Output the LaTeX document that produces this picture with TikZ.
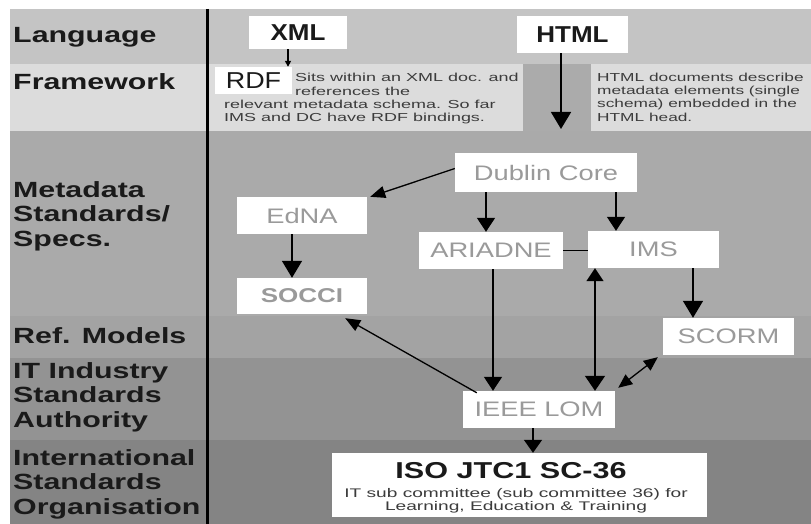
\documentclass[tikz,border=0pt]{standalone}
\usepackage{fontspec}
\setmainfont{Liberation Sans}
\newfontfamily\labfont[FakeStretch=1.38]{Liberation Sans}
\newfontfamily\boxfont[FakeStretch=1.3]{Liberation Sans}
\newfontfamily\descfont[FakeStretch=1.55]{Liberation Sans}
\newfontfamily\htmldescfont[FakeStretch=1.49]{Liberation Sans}
\newfontfamily\isosubfont[FakeStretch=1.53]{Liberation Sans}
\newfontfamily\isofont[FakeStretch=1.33]{Liberation Sans}
\newfontfamily\topfont[FakeStretch=1.13]{Liberation Sans}
\newfontfamily\rdffont[FakeStretch=1.17]{Liberation Sans}
\usetikzlibrary{arrows.meta,calc}
\definecolor{cLang}{HTML}{C4C4C4}
\definecolor{cFrame}{HTML}{DCDCDC}
\definecolor{cCol}{HTML}{ABABAB}
\definecolor{cMeta}{HTML}{AAAAAA}
\definecolor{cRef}{HTML}{A3A3A3}
\definecolor{cIT}{HTML}{939393}
\definecolor{cIntl}{HTML}{848484}
\definecolor{boxtext}{HTML}{9A9A9A}
\definecolor{ink}{HTML}{1A1A1A}
\begin{document}
\begin{tikzpicture}[x=1pt,y=-1pt,
  lab/.style={anchor=base west,inner sep=0,text=ink,font=\labfont\bfseries\fontsize{22}{24.5}\selectfont},
  labm/.style={anchor=north west,inner sep=0,align=left,text=ink,font=\labfont\bfseries\fontsize{22}{24.5}\selectfont},
  wbox/.style={fill=white,inner sep=0,text=boxtext,font=\boxfont\fontsize{21}{21}\selectfont},
  topbox/.style={fill=white,inner sep=0,text=ink,font=\topfont\bfseries\fontsize{23}{23}\selectfont},
  desc/.style={anchor=north west,inner sep=0,align=left,text=ink!85,font=\descfont\fontsize{11.6}{13.3}\selectfont},
  isosub/.style={anchor=base,inner sep=0,text=ink!85,font=\isosubfont\fontsize{12.5}{13}\selectfont},
  bigarr/.style={-{Triangle[width=20pt,length=17pt]},line width=1.6pt,draw=black},
  midarr/.style={-{Triangle[width=18pt,length=14pt]},line width=1.6pt,draw=black},
  diagarr/.style={-{Triangle[width=12pt,length=15pt]},line width=1.3pt,draw=black},
  dblarr/.style={{Triangle[width=12pt,length=14pt]}-{Triangle[width=12pt,length=14pt]},line width=1.3pt,draw=black},
  updn/.style={{Triangle[width=17pt,length=13pt]}-{Triangle[width=20pt,length=15pt]},line width=1.6pt,draw=black},
  plain/.style={line width=1.6pt,draw=black}
]
\useasboundingbox (0,0) rectangle (811,524);
% background bands
\fill[white] (0,0) rectangle (811,524);
\fill[cLang] (10,9) rectangle (811,64);
\fill[cFrame] (10,64) rectangle (811,131);
\fill[cCol] (523,64) rectangle (591,131);
\fill[cMeta] (10,131) rectangle (811,316);
\fill[cRef] (10,316) rectangle (811,358);
\fill[cIT] (10,358) rectangle (811,440);
\fill[cIntl] (10,440) rectangle (811,524);
\draw[line width=3pt] (207,9) -- (207,524);

% row labels
\node[lab] (lLang) at (13,43) {Language};
\node[lab] (lFrame) at (13,90) {Framework};
\node[labm] (lMeta) at (13,181) {Metadata\\Standards/\\Specs.};
\node[lab] (lRef) at (13,343) {Ref. Models};
\node[labm] (lIT) at (13,362) {IT Industry\\Standards\\Authority};
\node[labm] (lISO) at (13,449) {International\\Standards\\Organisation};

% top boxes
\node[topbox,minimum width=98pt,minimum height=33pt] (XML) at (298,32.5) {XML};
\node[topbox,minimum width=111pt,minimum height=37pt] (HTML) at (572.5,34.5) {HTML};
\node[fill=white,inner sep=0,minimum width=77pt,minimum height=27pt,text=ink,
      font=\rdffont\fontsize{23}{23}\selectfont] (RDF) at (253.5,80.5) {RDF};
\node[desc] (rdfA) at (295,73.2) {Sits within an XML doc. and\\references the};
\node[desc] (rdfB) at (224,99.8) {relevant metadata schema. So far\\IMS and DC have RDF bindings.};
\node[desc,font=\htmldescfont\fontsize{11.6}{13.3}\selectfont] (htmlT) at (597,72.5) {HTML documents describe\\metadata elements (single\\schema) embedded in the\\HTML head.};
\coordinate (hEnd) at (561,129);

% metadata boxes
\node[wbox,minimum width=182pt,minimum height=39pt] (DC) at (546,172.5) {Dublin Core};
\node[wbox,minimum width=130pt,minimum height=37pt] (EdNA) at (302,215.5) {EdNA};
\node[wbox,minimum width=144pt,minimum height=37pt] (ARI) at (491,250.5) {ARIADNE};
\node[wbox,minimum width=131pt,minimum height=37pt] (IMS) at (653.5,249.5) {IMS};
\node[wbox,minimum width=130pt,minimum height=36pt,font=\boxfont\bfseries\fontsize{20}{20}\selectfont] (SOCCI) at (302,296) {SOCCI};
\node[wbox,minimum width=131pt,minimum height=37pt] (SCORM) at (728.5,336.5) {SCORM};
\node[wbox,minimum width=152pt,minimum height=37pt] (LOM) at (539,409.5) {IEEE LOM};
\node[fill=white,inner sep=0,minimum width=375pt,minimum height=64pt] (ISO) at (519.5,485) {};
\node[anchor=base,inner sep=0,text=ink,font=\isofont\bfseries\fontsize{23}{23}\selectfont] (isoT) at (511,478) {ISO JTC1 SC-36};
\node[isosub] (isoS1) at (516,497) {IT sub committee (sub committee 36) for};
\node[isosub] (isoS2) at (516,510) {Learning, Education \& Training};

% x references for vertical connectors
\coordinate (kXR) at (288,0);
\coordinate (kH) at (561,0);
\coordinate (kDA) at (486,0);
\coordinate (kDI) at (616,0);
\coordinate (kES) at (292,0);
\coordinate (kAL) at (493,0);
\coordinate (kIL) at (595,0);
\coordinate (kIS) at (693,0);
\coordinate (kLI) at (533,0);

% connectors
\draw[-{Triangle[width=6pt,length=6pt]},line width=2pt] (XML.south -| kXR) -- (RDF.north -| kXR);
\draw[bigarr] (HTML.south -| kH) -- (hEnd);
\draw[midarr] (DC.south -| kDA) -- (ARI.north -| kDA);
\draw[midarr] (DC.south -| kDI) -- (IMS.north -| kDI);
\draw[diagarr] ([yshift=4pt]DC.west) -- ([xshift=3pt]EdNA.north east);
\draw[bigarr] (EdNA.south -| kES) -- (SOCCI.north -| kES);
\draw[plain] (ARI.east) -- (ARI.east -| IMS.west);
\draw[bigarr] (IMS.south -| kIS) -- (SCORM.north -| kIS);
\draw[midarr] (ARI.south -| kAL) -- (LOM.north -| kAL);
\draw[updn] (IMS.south -| kIL) -- (LOM.north -| kIL);
\draw[diagarr] ([xshift=14pt,yshift=-2pt]LOM.north west) -- ([xshift=-22pt,yshift=-4pt]SOCCI.south east);
\draw[dblarr] ([xshift=-5pt,yshift=-2pt]SCORM.south west) -- ([xshift=3pt,yshift=3pt]LOM.north east);
\draw[{Triangle[width=18pt,length=13pt]}-,line width=1.6pt] (ISO.north -| kLI) -- (LOM.south -| kLI);
\end{tikzpicture}
\end{document}
